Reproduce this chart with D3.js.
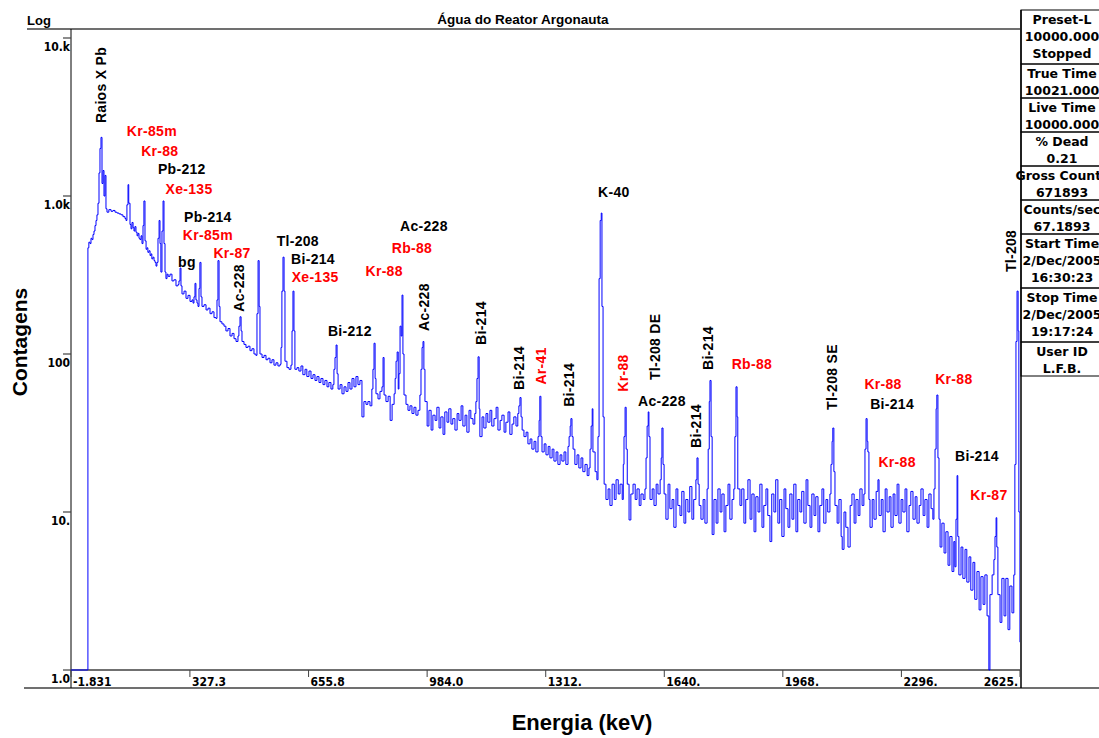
<!DOCTYPE html>
<html>
<head>
<meta charset="utf-8">
<script src="https://cdn.jsdelivr.net/npm/d3@7"></script>
<style>
  body { margin: 0; background: #fff; }
  svg { display: block; }
  text { font-family: "Liberation Sans", Arial, sans-serif; }
</style>
</head>
<body>
<div id="chart"></div>
<script>
// x ticks (keV) and their printed labels
const xTicks = [-1.831, 327.3, 655.8, 984.0, 1312.3, 1640.5, 1968.7, 2296.9, 2625.2];
const xTickLabels = ["-1.831", "327.3", "655.8", "984.0", "1312.", "1640.", "1968.", "2296.", "2625."];

// y ticks (counts, log)
const yTicks = [10000, 1000, 100, 10, 1];
const yTickLabels = ["10.k", "1.0k", "100", "10.", "1.0"];

// spectrum: [energy keV, counts]
const spectrum = [
  [-1.8, 1], [44, 1], [45, 470], [47.6, 510], [50.8, 500], [53.5, 540], [56.3, 530], [59, 570],
  [61.8, 600], [64.6, 650], [67.4, 700], [70, 760], [72.9, 900], [75.7, 1400], [78.4, 2000],
  [81.2, 2350], [84, 1200], [86.8, 1450], [89.5, 1000], [92.3, 1350], [95, 830], [97.8, 790],
  [103, 820], [109, 800], [114.4, 810], [120, 790], [125.5, 780], [131, 770], [136.6, 760],
  [142, 740], [147.6, 720], [150.4, 700], [153, 880], [156, 1180], [158, 900], [161.5, 660],
  [164.3, 620], [167, 680], [170, 630], [172.5, 600], [175, 640], [178, 590], [181, 560],
  [183.6, 580], [186.4, 540], [189, 530], [192, 560], [194.7, 500], [197.5, 650], [200, 930],
  [203, 520], [206, 460], [208.6, 470], [211, 440], [214, 450], [217, 420], [219.6, 430],
  [222, 400], [225, 410], [228, 390], [230.7, 380], [233.5, 360], [236, 380], [239, 540],
  [242, 700], [244.5, 500], [247, 330], [250, 600], [253, 930], [255.6, 500], [258.4, 330],
  [261, 300], [264, 320], [267, 310], [272.2, 320], [277.7, 290], [283, 295], [288.8, 270],
  [294.3, 275], [297, 290], [300, 350], [302.6, 270], [305.4, 240], [311, 250], [316.5, 225],
  [322, 235], [327.6, 215], [333, 220], [336, 210], [338.6, 230], [341.4, 280], [344, 220],
  [347, 210], [349.7, 200], [352.5, 260], [355, 380], [358, 230], [360.8, 200], [366.3, 205],
  [372, 190], [377.4, 195], [383, 180], [388.5, 185], [394, 170], [399.5, 168], [402.3, 220],
  [405, 390], [408, 200], [410.6, 160], [416, 155], [421.7, 150], [427, 140], [432.8, 145],
  [438.3, 130], [444, 135], [449.4, 125], [455, 120], [460.4, 130], [463, 150], [466, 172],
  [469, 140], [471.5, 120], [477, 115], [482.6, 110], [488, 112], [493.6, 105], [499, 108],
  [504.7, 100], [510, 98], [513, 180], [516, 390], [519, 200], [521.3, 100], [527, 95],
  [532.4, 98], [538, 92], [543.4, 94], [549, 88], [554.5, 92], [560, 85], [565.6, 88],
  [571, 84], [576.7, 86], [579.5, 110], [582, 250], [585, 410], [588, 250], [590.5, 90],
  [596, 82], [601.6, 80], [607, 85], [610, 140], [612.6, 250], [615.4, 140], [618, 80],
  [623.7, 82], [629, 78], [634.8, 84], [640, 74], [646, 80], [651, 72], [657, 78], [662.5, 70],
  [668, 74], [673.6, 68], [679, 72], [684.6, 66], [690, 70], [695.7, 64], [701, 68], [706.8, 62],
  [712, 66], [717.8, 60], [723, 64], [726, 80], [729, 95], [732, 114], [734.7, 75], [737.5, 60],
  [743, 64], [748.3, 56], [754, 62], [759.4, 58], [765, 66], [770.4, 60], [776, 70], [781.5, 62],
  [787, 72], [792.6, 64], [798, 68], [803.6, 40], [809, 50], [814.7, 48], [820, 50], [825.8, 47],
  [831, 60], [834, 80], [837, 117], [840, 70], [842.4, 56], [848, 52], [853.5, 58], [859, 62],
  [862, 95], [864.8, 55], [870, 50], [876, 54], [881.6, 38], [887, 48], [892.6, 56], [895.5, 70],
  [898, 90], [901, 103], [904, 60], [906, 75], [909, 150], [912, 130], [914.5, 236], [917, 100],
  [920, 55], [925.5, 48], [931, 44], [936.5, 47], [942, 42], [947.6, 46], [953, 41], [958.7, 44],
  [964, 55], [967, 80], [970, 110], [972.6, 120], [975, 80], [978, 50], [984, 35], [989, 44],
  [995, 33], [1000, 41], [1006, 38], [1011, 46], [1017, 34], [1022, 40], [1028, 31], [1033, 43],
  [1039, 37], [1044, 45], [1050, 36], [1055, 39], [1061, 33], [1067, 42], [1072, 38], [1078, 47],
  [1083, 35], [1089, 41], [1094, 32], [1100, 44], [1105, 39], [1111, 36], [1116, 42], [1119, 50],
  [1122, 70], [1125, 96], [1128, 45], [1130, 30], [1136, 40], [1141, 34], [1147, 42], [1152, 37],
  [1158, 44], [1163, 35], [1169, 39], [1175, 46], [1180, 33], [1186, 38], [1191, 41], [1197, 32],
  [1202, 37], [1208, 43], [1213, 31], [1219, 36], [1224, 40], [1230, 35], [1235, 42], [1238, 47],
  [1241, 53], [1244, 40], [1247, 33], [1252, 30], [1258, 32], [1263, 27], [1269, 29], [1274, 25],
  [1280, 28], [1285, 24], [1291, 30], [1294, 38], [1296, 54], [1299, 30], [1302, 24], [1308, 27],
  [1313, 23], [1319, 26], [1324, 22], [1330, 25], [1335, 21], [1341, 24], [1346, 20], [1352, 23],
  [1357, 21], [1363, 24], [1368, 20], [1374, 26], [1377, 30], [1380, 35], [1382, 39], [1385, 30],
  [1388, 25], [1393, 20], [1399, 23], [1404, 19], [1410, 22], [1415, 18], [1421, 20], [1427, 17],
  [1432, 19], [1435, 25], [1438, 35], [1441, 45], [1443, 24], [1449, 18], [1454, 16], [1457, 30],
  [1460, 300], [1463, 700], [1466, 780], [1468, 200], [1471, 40], [1474, 15], [1479, 12],
  [1485, 14], [1490, 11], [1496, 15], [1502, 12], [1507, 16], [1513, 13], [1518, 15], [1524, 12],
  [1527, 20], [1529, 30], [1532, 46], [1535, 25], [1538, 15], [1543, 8.9], [1548, 13], [1554, 15],
  [1560, 12], [1565, 14], [1571, 11], [1576, 13], [1582, 12], [1587, 14], [1590, 22], [1593, 35],
  [1596, 43], [1598, 30], [1601, 12], [1607, 14], [1612, 11], [1618, 15], [1623, 13], [1629, 16],
  [1632, 22], [1634, 34], [1637, 20], [1640, 13], [1645, 9], [1651, 15], [1656, 10.5], [1662, 12],
  [1667, 8], [1673, 14], [1678, 11], [1684, 9.5], [1689, 13.5], [1695, 8.5], [1700, 12], [1706, 10],
  [1711, 14.5], [1717, 9], [1722, 12], [1728, 16], [1731, 22], [1734, 15], [1737, 11], [1742, 9],
  [1748, 12], [1753, 8.5], [1759, 14], [1762, 25], [1765, 50], [1767, 68], [1770, 30], [1773, 7.2],
  [1778, 12], [1784, 8.5], [1789, 14], [1795, 10], [1800, 13], [1806, 7.5], [1811, 11], [1817, 15],
  [1822, 9], [1828, 12], [1833, 14], [1836, 30], [1839, 62], [1842, 40], [1844, 14], [1850, 11],
  [1855, 14], [1861, 8.5], [1866, 12], [1872, 16], [1878, 9], [1883, 13], [1889, 7.5], [1894, 12.5],
  [1900, 10], [1905, 15], [1911, 8], [1916, 11], [1922, 14], [1927, 9.5], [1933, 6.5], [1938, 13],
  [1944, 10], [1949, 16], [1955, 8.5], [1960, 12], [1966, 7], [1972, 14], [1977, 10.5], [1983, 8],
  [1988, 13], [1994, 9], [1999, 15], [2005, 7.5], [2010, 12], [2016, 10], [2021, 13.5], [2027, 8.5],
  [2033, 16], [2038, 11], [2044, 8], [2049, 13], [2055, 9.5], [2060, 12.5], [2066, 7.5], [2071, 11],
  [2077, 14], [2082, 8.5], [2088, 12], [2093, 10], [2099, 13], [2102, 20], [2105, 28], [2107, 34],
  [2110, 18], [2113, 11], [2119, 8.5], [2124, 12], [2130, 7], [2133, 5.8], [2138, 10], [2143, 8],
  [2149, 6], [2155, 11], [2160, 13], [2166, 8.5], [2171, 12], [2177, 9.5], [2182, 14], [2188, 11],
  [2193, 13], [2196, 25], [2199, 39], [2202, 28], [2204, 24], [2207, 12], [2210, 8], [2216, 12],
  [2221, 9], [2227, 13.5], [2232, 16], [2235, 9.5], [2241, 12], [2246, 7.5], [2252, 14], [2257, 10],
  [2263, 12.5], [2268, 8], [2274, 13], [2279, 9.5], [2285, 15], [2290, 8.5], [2296, 12], [2301, 10],
  [2307, 14], [2312, 7.5], [2318, 11], [2323, 13.5], [2329, 9], [2335, 12.5], [2340, 8.5], [2346, 11],
  [2351, 14], [2357, 9.5], [2362, 12], [2368, 8], [2373, 13], [2379, 10.5], [2384, 9], [2387, 14],
  [2390, 25], [2393, 45], [2395, 55], [2398, 22], [2401, 9], [2404, 6], [2409, 8.5], [2415, 5.5],
  [2420, 7.5], [2426, 4.6], [2431, 7], [2437, 4.2], [2442, 6.5], [2445, 4.5], [2448, 9], [2451, 17],
  [2453, 7], [2456, 4], [2462, 6], [2467, 3.8], [2473, 5.8], [2478, 3.6], [2484, 5.2],
  [2489, 3.2], [2495, 4.8], [2500, 2.8], [2506, 4.2], [2512, 2.4], [2517, 3.9], [2523, 2.6],
  [2528, 4], [2534, 2.2], [2539, 1], [2542, 3], [2548, 4], [2553, 5], [2556, 7], [2559, 9.2],
  [2561, 6], [2564, 3], [2570, 2], [2575, 3.8], [2581, 2.2], [2586, 3.8], [2592, 1.8], [2597, 3.4],
  [2603, 2.3], [2608, 4], [2611, 20], [2614, 120], [2617, 250], [2620, 140], [2622, 10], [2625, 1.5]
];

// peak labels: [text, keV, counts, colour, vertical]
const peakLabels = [
  ["Raios X Pb", 81, 5040, "black", true],
  ["Kr-85m", 222, 2580, "red", false],
  ["Kr-88", 244, 1930, "red", false],
  ["Pb-212", 305, 1480, "black", false],
  ["Xe-135", 325, 1110, "red", false],
  ["Pb-214", 377, 736, "black", false],
  ["Kr-85m", 377, 566, "red", false],
  ["Kr-87", 444, 436, "red", false],
  ["bg", 319, 382, "black", false],
  ["Ac-228", 463, 262, "black", true],
  ["Tl-208", 626, 519, "black", false],
  ["Bi-214", 668, 399, "black", false],
  ["Xe-135", 674, 307, "red", false],
  ["Bi-212", 770, 140, "black", false],
  ["Kr-88", 865, 335, "red", false],
  ["Rb-88", 942, 469, "red", false],
  ["Ac-228", 975, 646, "black", false],
  ["Ac-228", 975, 198, "black", true],
  ["Bi-214", 1133, 157, "black", true],
  ["Bi-214", 1238, 81.5, "black", true],
  ["Ar-41", 1299, 84, "red", true],
  ["Bi-214", 1377, 63.7, "black", true],
  ["K-40", 1501, 1060, "black", false],
  ["Kr-88", 1526, 75.8, "red", true],
  ["Tl-208 DE", 1615, 111, "black", true],
  ["Ac-228", 1634, 50.4, "black", false],
  ["Bi-214", 1728, 35, "black", true],
  ["Bi-214", 1761, 109, "black", true],
  ["Rb-88", 1883, 86.5, "red", false],
  ["Tl-208 SE", 2105, 71.5, "black", true],
  ["Kr-88", 2246, 64.6, "red", false],
  ["Bi-214", 2271, 48.3, "black", false],
  ["Kr-88", 2285, 20.7, "red", false],
  ["Kr-88", 2442, 69.5, "red", false],
  ["Bi-214", 2506, 22.6, "black", false],
  ["Kr-87", 2539, 12.8, "red", false],
  ["Tl-208", 2600, 449, "black", true]
];

// status panel on the right
const panelRows = [
  ["Preset-L", "10000.000", "Stopped"],
  ["True Time", "10021.000"],
  ["Live Time", "10000.000"],
  ["% Dead", "0.21"],
  ["Gross Counts", "671893"],
  ["Counts/sec", "67.1893"],
  ["Start Time", "2/Dec/2005", "16:30:23"],
  ["Stop Time", "2/Dec/2005", "19:17:24"],
  ["User ID", "L.F.B."]
];

const width = 1099, height = 738;
const plotLeft = 71, plotRight = 1020, plotBottom = 670, plotTop = 38;

const svg = d3.select("#chart").append("svg")
  .attr("width", width)
  .attr("height", height);

const x = d3.scaleLinear().domain([-1.831, 2625.2]).range([plotLeft, plotRight]);
const y = d3.scaleLog().domain([1, 10000]).range([plotBottom, plotTop]);

// frame lines
const frame = svg.append("g").attr("stroke", "#404040").attr("fill", "none");
frame.append("line").attr("x1", 27).attr("x2", plotRight).attr("y1", 29).attr("y2", 29).attr("stroke-width", 1.5);
frame.append("line").attr("x1", 24).attr("x2", width).attr("y1", 688).attr("y2", 688).attr("stroke-width", 1.5);
frame.append("line").attr("x1", plotLeft).attr("x2", plotLeft).attr("y1", 29).attr("y2", 688).attr("stroke", "#000");
frame.append("line").attr("x1", plotRight + 1).attr("x2", plotRight + 1).attr("y1", 10).attr("y2", 688).attr("stroke", "#000").attr("stroke-width", 1.5);
frame.append("line").attr("x1", plotLeft).attr("x2", plotRight).attr("y1", plotBottom).attr("y2", plotBottom).attr("stroke-width", 1.5);

// y ticks
const yg = svg.append("g");
yTicks.forEach((t, i) => {
  yg.append("line").attr("x1", plotLeft - 8).attr("x2", plotLeft).attr("y1", y(t)).attr("y2", y(t))
    .attr("stroke", "#404040").attr("stroke-width", 1.2);
  yg.append("text").attr("x", plotLeft - 1).attr("y", y(t) + 13)
    .attr("text-anchor", "end")
    .style("font-family", "'DejaVu Sans Condensed', 'DejaVu Sans', sans-serif")
    .style("font-weight", "bold").style("font-size", "12px")
    .text(yTickLabels[i]);
});

// x ticks
const xg = svg.append("g");
xTicks.forEach((t, i) => {
  const last = i === xTicks.length - 1;
  xg.append("line").attr("x1", x(t)).attr("x2", x(t)).attr("y1", plotBottom).attr("y2", plotBottom + 7)
    .attr("stroke", "#404040");
  xg.append("text").attr("x", last ? x(t) - 2 : x(t) + 2).attr("y", 686)
    .attr("text-anchor", last ? "end" : "start")
    .style("font-family", "'DejaVu Sans Condensed', 'DejaVu Sans', sans-serif")
    .style("font-weight", "bold").style("font-size", "12px")
    .text(xTickLabels[i]);
});

// spectrum
svg.append("defs").append("clipPath").attr("id", "plot")
  .append("rect").attr("x", plotLeft).attr("y", 29).attr("width", plotRight - plotLeft).attr("height", plotBottom - 29 + 1);

const line = d3.line()
  .x(d => x(d[0]))
  .y(d => y(Math.max(1, d[1])))
  .curve(d3.curveStepAfter);

svg.append("path")
  .datum(spectrum)
  .attr("clip-path", "url(#plot)")
  .attr("fill", "none")
  .attr("stroke", "#0000ff")
  .attr("stroke-width", 1)
  .attr("d", line);

// peak labels
svg.append("g").selectAll("text")
  .data(peakLabels)
  .enter().append("text")
  .attr("transform", d => `translate(${x(d[1])},${y(d[2])})` + (d[4] ? " rotate(-90)" : ""))
  .attr("text-anchor", "middle")
  .attr("dominant-baseline", "central")
  .attr("fill", d => d[3] === "red" ? "#ff0000" : "#000")
  .style("font-weight", "bold")
  .style("font-size", "14px")
  .style("letter-spacing", "0.3px")
  .text(d => d[0]);

// titles
svg.append("text").attr("x", 27).attr("y", 25)
  .style("font-weight", "bold").style("font-size", "13px").text("Log");
svg.append("text").attr("x", 523).attr("y", 24).attr("text-anchor", "middle")
  .style("font-weight", "bold").style("font-size", "13.5px").text("Água do Reator Argonauta");
svg.append("text").attr("transform", "translate(19,342) rotate(-90)")
  .attr("text-anchor", "middle").attr("dominant-baseline", "central")
  .style("font-weight", "bold").style("font-size", "21px").text("Contagens");
svg.append("text").attr("x", 582).attr("y", 730).attr("text-anchor", "middle")
  .style("font-weight", "bold").style("font-size", "22px").text("Energia (keV)");

// right status panel
const panel = svg.append("g");
let rowTop = 10;
panelRows.forEach(rows => {
  const h = rows.length === 3 ? 54 : 34;
  panel.append("rect").attr("x", plotRight + 1).attr("y", rowTop).attr("width", 100).attr("height", h)
    .attr("fill", "none").attr("stroke", "#000");
  rows.forEach((r, j) => {
    panel.append("text").attr("x", 1062).attr("y", rowTop + 14 + 17 * j)
      .attr("text-anchor", "middle")
      .style("font-family", "'DejaVu Sans', sans-serif")
      .style("font-weight", "bold").style("font-size", "12.5px")
      .text(r);
  });
  rowTop += h;
});
</script>
</body>
</html>
